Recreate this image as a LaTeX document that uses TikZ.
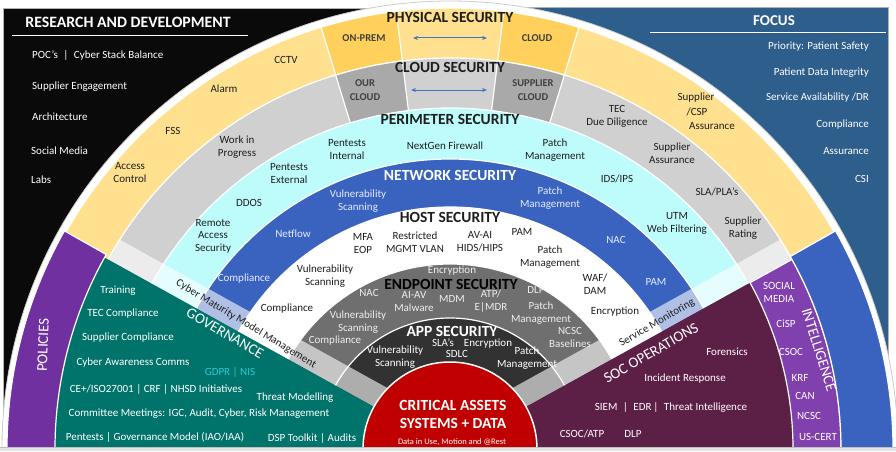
\documentclass[tikz,border=0pt]{standalone}
\usepackage{fontspec}
\setmainfont{Carlito}
\usetikzlibrary{arrows.meta}
\definecolor{yel}{HTML}{FFE08E}
\definecolor{yelbox}{HTML}{FFD15C}
\definecolor{gry}{HTML}{D0D0D0}
\definecolor{grybox}{HTML}{A9A9A9}
\definecolor{cya}{HTML}{BEFCFC}
\definecolor{netb}{HTML}{3A63BF}
\definecolor{endg}{HTML}{6F6F6F}
\definecolor{appd}{HTML}{323232}
\definecolor{crit}{HTML}{C00000}
\definecolor{govt}{HTML}{00736A}
\definecolor{socm}{HTML}{5C1F46}
\definecolor{polp}{HTML}{7030A0}
\definecolor{intp}{HTML}{8040AE}
\definecolor{bandb}{HTML}{3A63BF}
\definecolor{focb}{HTML}{2E5E8C}
\definecolor{arrb}{HTML}{4472C4}
\definecolor{txd}{HTML}{1E1E1E}
\definecolor{gdprc}{HTML}{2CCBD8}
\definecolor{netlt}{HTML}{E4EBFF}
\definecolor{endlt}{HTML}{EEEEEE}
\begin{document}
\begin{tikzpicture}[x=1pt,y=1pt,
  lbl/.style={font=\fontsize{11}{13}\selectfont, align=center, inner sep=0pt, text=txd},
  wlbl/.style={lbl, text=white},
  nlbl/.style={lbl, text=netlt},
  elbl/.style={lbl, text=endlt},
  ttl/.style={font=\bfseries\fontsize{15.5}{17}\selectfont, inner sep=0pt, text=txd},
  boxlbl/.style={font=\bfseries\fontsize{10.5}{13.5}\selectfont, align=center, inner sep=0pt, text=txd!85},
  bigw/.style={font=\fontsize{15}{17}\selectfont, inner sep=0pt, text=white},
  sep/.style={draw=white, line width=1.2pt},
  dbl/.style={{Stealth[length=5pt,width=4pt]}-{Stealth[length=5pt,width=4pt]}, draw=arrb, line width=1pt}
]
\useasboundingbox (0,0) rectangle (896,451);
\fill[white] (0,0) rectangle (896,451);
% side panels
\filldraw[fill=black!96, draw=gray!60, line width=0.8pt] (3,11) rectangle (450,443);
\filldraw[fill=focb, draw=gray!60, line width=0.8pt] (450,11) rectangle (888,444);
\draw[white, line width=0.8pt] (12,416) -- (248,416);
\draw[white, line width=0.8pt] (650,419) -- (886,419);

\begin{scope}[shift={(450,2)}]
  \filldraw[fill=white, draw=gray!40, line width=0.8pt] (0:448) arc[start angle=0,end angle=180,radius=448] -- cycle;
  \foreach \r/\c in {441/yel, 391/gry, 341/cya, 290/netb, 242/white, 185/endg, 131/appd}
    {\filldraw[fill=\c, sep] (0:\r) arc[start angle=0,end angle=180,radius=\r] -- cycle;}
  % boxes
  \filldraw[fill=yelbox, sep] (97:441) arc[start angle=97,end angle=107,radius=441] -- (107:391) arc[start angle=107,end angle=97,radius=391] -- cycle;
  \filldraw[fill=yelbox, sep] (73:441) arc[start angle=73,end angle=83,radius=441] -- (83:391) arc[start angle=83,end angle=73,radius=391] -- cycle;
  \filldraw[fill=grybox, sep] (97:391) arc[start angle=97,end angle=107,radius=391] -- (107:341) arc[start angle=107,end angle=97,radius=341] -- cycle;
  \filldraw[fill=grybox, sep] (73:391) arc[start angle=73,end angle=83,radius=391] -- (83:341) arc[start angle=83,end angle=73,radius=341] -- cycle;
  % strips
  \begin{scope}
    \clip (0:391) arc[start angle=0,end angle=180,radius=391] -- cycle;
    \fill[white, opacity=0.6, rotate=151] (0,0) rectangle (400,-23);
    \fill[white, opacity=0.6, rotate=29] (0,0) rectangle (400,23);
  \end{scope}
  % wedges
  \fill[govt] (0,0) -- (151:395) arc[start angle=151,end angle=180,radius=395] -- cycle;
  \filldraw[fill=polp, sep] (150.5:395) arc[start angle=150.5,end angle=180,radius=395] -- (180:443) arc[start angle=180,end angle=150.5,radius=443] -- cycle;
  \fill[socm] (0,0) -- (0:343) arc[start angle=0,end angle=29,radius=343] -- cycle;
  \filldraw[fill=intp, sep] (0:343) arc[start angle=0,end angle=29,radius=343] -- (29:391) arc[start angle=29,end angle=0,radius=391] -- cycle;
  \filldraw[fill=bandb, sep] (0:391) arc[start angle=0,end angle=29.5,radius=391] -- (29.5:443) arc[start angle=29.5,end angle=0,radius=443] -- cycle;
  \filldraw[fill=crit, draw=white, line width=1.5pt] (0:87) arc[start angle=0,end angle=180,radius=87] -- cycle;
\end{scope}
\fill[gray!20] (0,0) rectangle (896,4);
\draw[gray!50, line width=0.6pt] (0,4) -- (896,4);

% R&D panel
\node[ttl, text=white, font=\bfseries\fontsize{15.8}{17}\selectfont] (rd) at (128,429) {RESEARCH AND DEVELOPMENT};
\node[wlbl, anchor=west] (rd1) at (32,396) {POC’s\enspace|\enspace Cyber Stack Balance};
\node[wlbl, anchor=west] (rd2) at (32,364) {Supplier Engagement};
\node[wlbl, anchor=west] (rd3) at (32,334) {Architecture};
\node[wlbl, anchor=west] (rd4) at (31,300) {Social Media};
\node[wlbl, anchor=west] (rd5) at (31,271) {Labs};
% FOCUS panel
\node[ttl, text=white, font=\bfseries\fontsize{15}{17}\selectfont] (fo) at (774,430) {FOCUS};
\node[wlbl, anchor=east] (f1) at (869,404) {Priority: Patient Safety};
\node[wlbl, anchor=east] (f2) at (869,378) {Patient Data Integrity};
\node[wlbl, anchor=east] (f3) at (869,353) {Service Availability /DR};
\node[wlbl, anchor=east] (f4) at (869,326) {Compliance};
\node[wlbl, anchor=east] (f5) at (869,300) {Assurance};
\node[wlbl, anchor=east] (f6) at (869,272) {CSI};

% physical
\node[ttl] (phys) at (450,434) {PHYSICAL SECURITY};
\node[boxlbl] (onprem) at (364,413) {ON-PREM};
\node[boxlbl] (pcloud) at (537,413) {CLOUD};
\coordinate (a1l) at (413,413);
\coordinate (a1r) at (487,413);
\draw[dbl] (a1l) -- (a1r);
\node[lbl] (cctv) at (286,391) {CCTV};
\node[lbl] (alarm) at (224,362) {Alarm};
\node[lbl] (fss) at (173,320) {FSS};
\node[lbl] (acc) at (130,278.5) {Access\\Control};
\node[lbl] (cs1) at (696,353) {Supplier};
\node[lbl] (cs2) at (697,339) {/CSP};
\node[lbl] (cs3) at (712,325) {Assurance};

% cloud
\node[ttl] (cloudsec) at (450,384) {CLOUD SECURITY};
\node[boxlbl] (ourcl) at (365,361) {OUR\\CLOUD};
\node[boxlbl] (supcl) at (533,361) {SUPPLIER\\CLOUD};
\coordinate (a2l) at (411,361);
\coordinate (a2r) at (487,361);
\draw[dbl] (a2l) -- (a2r);
\node[lbl] (wip) at (237,304) {Work in\\Progress};
\node[lbl] (tec) at (617,335) {TEC\\Due Diligence};
\node[lbl] (supas) at (672,298) {Supplier\\Assurance};
\node[lbl] (sla) at (717,259) {SLA/PLA’s};
\node[lbl] (suprat) at (743,223) {Supplier\\Rating};

% perimeter
\node[ttl] (perim) at (450,332) {PERIMETER SECURITY};
\node[lbl] (pint) at (347,301) {Pentests\\Internal};
\node[lbl] (ngfw) at (445,305) {NextGen Firewall};
\node[lbl] (ppm) at (555,301) {Patch\\Management};
\node[lbl] (pext) at (289,277) {Pentests\\External};
\node[lbl] (ddos) at (249,248) {DDOS};
\node[lbl, font=\fontsize{11}{12.5}\selectfont] (ras) at (213,215) {Remote\\Access\\Security};
\node[lbl] (ids) at (617,272) {IDS/IPS};
\node[lbl] (utm) at (677,228) {UTM\\Web Filtering};

% network
\node[ttl, text=white] (netsec) at (450,276) {NETWORK SECURITY};
\node[nlbl] (nvs) at (358,250) {Vulnerability\\Scanning};
\node[nlbl] (npm) at (550,253) {Patch\\Management};
\node[nlbl] (nflow) at (293,217) {Netflow};
\node[nlbl] (nnac) at (616,211) {NAC};
\node[nlbl] (ncomp) at (244,172) {Compliance};
\node[nlbl] (npam) at (656,169) {PAM};

% host
\node[ttl] (hostsec) at (450,234) {HOST SECURITY};
\node[lbl] (mfa) at (363,207) {MFA\\EOP};
\node[lbl] (rmv) at (415,209) {Restricted\\MGMT VLAN};
\node[lbl] (avai) at (480,209) {AV-AI\\HIDS/HIPS};
\node[lbl] (hpam) at (522,219) {PAM};
\node[lbl] (hpm) at (550,194) {Patch\\Management};
\node[lbl] (hvs) at (325,175) {Vulnerability\\Scanning};
\node[lbl] (hcomp) at (287,142) {Compliance};
\node[lbl] (waf) at (595,166.5) {WAF/\\DAM};
\node[lbl] (henc) at (615,139) {Encryption};

% endpoint
\node[elbl] (eenc) at (452,180) {Encryption};
\node[ttl, text=black] (endsec) at (451,167) {ENDPOINT SECURITY};
\node[elbl] (enac) at (369,158) {NAC};
\node[elbl] (aiav) at (414,149.5) {AI-AV\\Malware};
\node[elbl] (mdm) at (452,152) {MDM};
\node[elbl] (atp) at (491,149.5) {ATP/\\E|MDR};
\node[elbl] (edlp) at (536,161) {DLP};
\node[elbl] (epm) at (541,138) {Patch\\Management};
\node[elbl] (encsc) at (570,113.5) {NCSC\\Baselines};
\node[elbl] (evs) at (358,128.5) {Vulnerability\\Scanning};
\node[elbl] (ecomp) at (335,110) {Compliance};

% app
\node[ttl, text=white] (appsec) at (452,120) {APP SECURITY};
\node[wlbl] (asla) at (443,108) {SLA’s};
\node[wlbl] (asdlc) at (457,97) {SDLC};
\node[wlbl] (aenc) at (488,107) {Encryption};
\node[wlbl] (avs) at (395,93.5) {Vulnerability\\Scanning};
\node[wlbl] (apm) at (527,92.5) {Patch\\Management};

% critical
\node[ttl, text=white] (ca1) at (453,46) {CRITICAL ASSETS};
\node[ttl, text=white] (ca2) at (453,28) {SYSTEMS + DATA};
\node[wlbl, font=\fontsize{8.5}{10}\selectfont] (ca3) at (452,9) {Data in Use, Motion and @Rest};

% governance
\node[bigw, rotate=-30] (gov) at (225,118) {GOVERNANCE};
\node[lbl, rotate=-31] (cmm) at (246,127) {Cyber Maturity Model Management};
\node[bigw, rotate=88] (pol) at (43,106) {POLICIES};
\node[wlbl] (g1) at (118,160) {Training};
\node[wlbl] (g2) at (123,137) {TEC Compliance};
\node[wlbl] (g3) at (128,113) {Supplier Compliance};
\node[wlbl] (g4) at (133,88) {Cyber Awareness Comms};
\node[lbl, text=gdprc] (g5) at (230,79) {GDPR | NIS};
\node[wlbl] (g6) at (156,62) {CE+/ISO27001 | CRF | NHSD Initiatives};
\node[wlbl] (g7) at (295,53) {Threat Modelling};
\node[wlbl] (g8) at (199,37) {Committee Meetings: IGC, Audit, Cyber, Risk Management};
\node[wlbl] (g9) at (155,14) {Pentests | Governance Model (IAO/IAA)};
\node[wlbl] (g10) at (312,13) {DSP Toolkit | Audits};

% SOC
\node[bigw, rotate=30] (soc) at (651,98) {SOC OPERATIONS};
\node[lbl, rotate=30] (smon) at (657,128) {Service Monitoring};
\node[wlbl] (s1) at (727,99) {Forensics};
\node[wlbl] (s2) at (685,72) {Incident Response};
\node[wlbl] (s3) at (671,44) {SIEM\enspace|\enspace EDR\,|\enspace Threat Intelligence};
\node[wlbl] (s4) at (582,17) {CSOC/ATP};
\node[wlbl] (s5) at (633,17) {DLP};

% intelligence
\node[wlbl] (i1) at (779,158.5) {SOCIAL\\MEDIA};
\node[wlbl] (i2) at (786,127) {CiSP};
\node[wlbl] (i3) at (791,99) {CSOC};
\node[wlbl] (i4) at (800,73) {KRF};
\node[wlbl] (i5) at (805,55) {CAN};
\node[wlbl] (i6) at (809,35) {NCSC};
\node[wlbl] (i7) at (818,14) {US-CERT};
\node[bigw, rotate=-72.6] (intel) at (819,101) {INTELLIGENCE};
\end{tikzpicture}
\end{document}
